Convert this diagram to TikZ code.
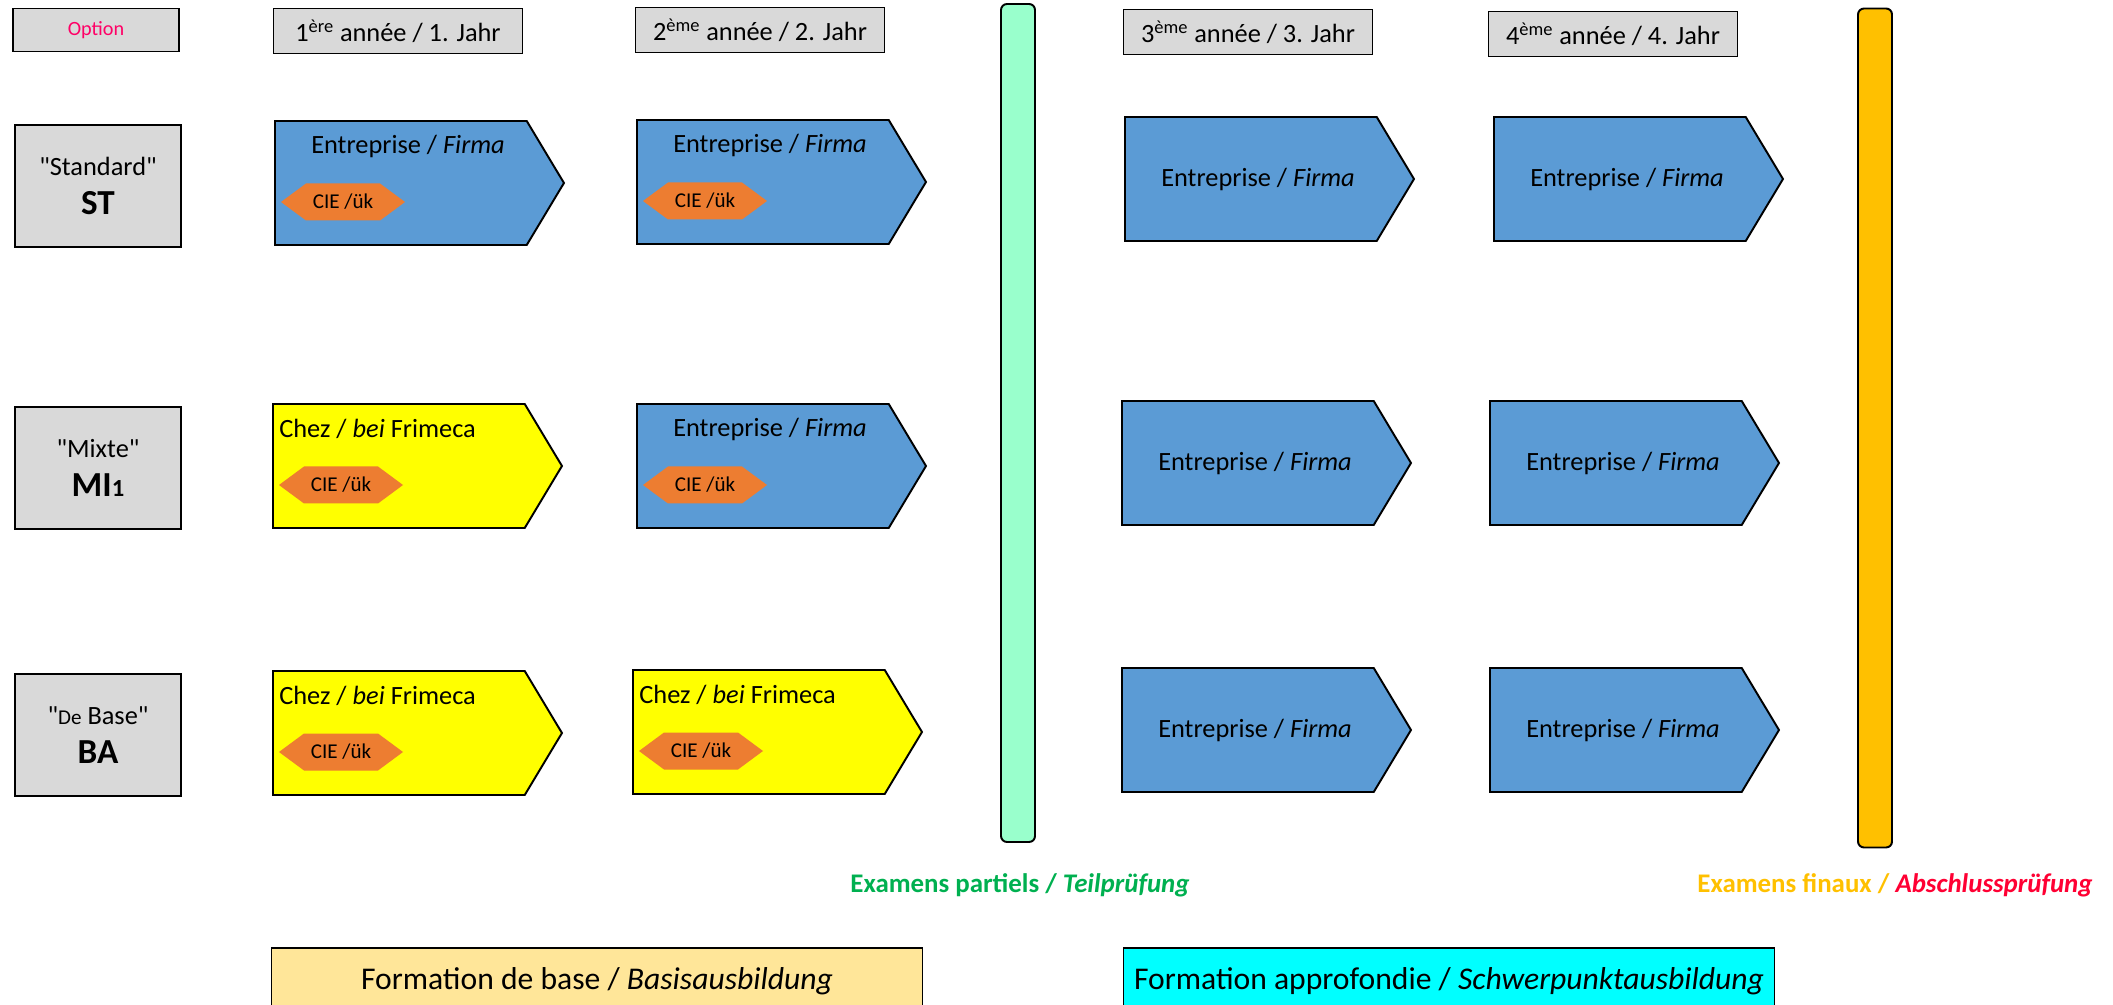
\documentclass[tikz,border=0pt]{standalone}
\usepackage{fontspec}
\setmainfont{Carlito}
\usetikzlibrary{shapes.symbols}

\definecolor{boxgray}{HTML}{D9D9D9}
\definecolor{firmblue}{HTML}{5B9BD5}
\definecolor{frimyellow}{HTML}{FFFF00}
\definecolor{cieorange}{HTML}{ED7D31}
\definecolor{partgreen}{HTML}{99FFCC}
\definecolor{partlabel}{HTML}{00B050}
\definecolor{finorange}{HTML}{FFC000}
\definecolor{finred}{HTML}{FF0033}
\definecolor{optpink}{HTML}{FF0066}
\definecolor{basefill}{HTML}{FFE699}
\definecolor{deepfill}{HTML}{00FFFF}

\begin{document}
\begin{tikzpicture}[x=0.2mm,y=-0.2mm]

  \tikzstyle{head} = [draw, line width=1.1pt, fill=boxgray, minimum width=49.8mm, minimum height=9mm, inner sep=0pt, font=\fontsize{15}{18}\selectfont]
  \tikzstyle{track} = [draw, line width=1.1pt, fill=boxgray, minimum width=33.2mm, minimum height=24.4mm, align=center, font=\fontsize{15}{22}\selectfont]
  \tikzstyle{stage} = [signal, signal to=east, signal pointer angle=118, draw, line width=1.1pt, minimum width=57.8mm, minimum height=24.8mm, anchor=west]
  \tikzstyle{cie} = [signal, signal to=west and east, signal pointer angle=73, fill=cieorange, minimum width=24.8mm, minimum height=7.4mm, inner sep=0pt, font=\fontsize{12}{14}\selectfont]
  \tikzstyle{txt} = [inner sep=0pt, font=\fontsize{15}{18}\selectfont]
  \tikzstyle{bar} = [draw, line width=1.1pt, rounded corners=1.2mm, minimum width=6.8mm]
  \tikzstyle{exam} = [font=\bfseries\fontsize{15.3}{18}\selectfont]
  \tikzstyle{phase} = [draw, line width=1.1pt, minimum width=130.2mm, minimum height=13.2mm, anchor=north, font=\fontsize{18}{22}\selectfont]

  \useasboundingbox (0,0) rectangle (2113,1005);
  \clip (0,0) rectangle (2113,1005);

  \node[head, minimum width=33.2mm, minimum height=8.6mm, font=\fontsize{11.5}{14}\selectfont, text=optpink] (opt) at (96,30) {Option};
  \node[head] (y1) at (398,31) {1\textsuperscript{ère} année / 1. Jahr};
  \node[head] (y2) at (760,30) {2\textsuperscript{ème} année / 2. Jahr};
  \node[head] (y3) at (1248,32) {3\textsuperscript{ème} année / 3. Jahr};
  \node[head] (y4) at (1613,34) {4\textsuperscript{ème} année / 4. Jahr};

  \node[track] (ST) at (98,186) {\textquotedbl Standard\textquotedbl\\{\bfseries\fontsize{20}{22}\selectfont ST}};
  \node[track] (MI) at (98,468) {\textquotedbl Mixte\textquotedbl\\{\bfseries\fontsize{20}{22}\selectfont MI{\fontsize{14}{16}\selectfont 1}}};
  \node[track] (BA) at (98,735) {\textquotedbl{\fontsize{12}{14}\selectfont De} Base\textquotedbl\\{\bfseries\fontsize{20}{22}\selectfont BA}};

  \node[stage, fill=firmblue] (st1) at (274,183) {};
  \node[txt] (st1t) at (408,146) {Entreprise / \textit{Firma}};
  \node[cie] (st1c) at (343,202) {CIE /ük};
  \node[stage, fill=firmblue] (st2) at (636,182) {};
  \node[txt] (st2t) at (770,145) {Entreprise / \textit{Firma}};
  \node[cie] (st2c) at (705,201) {CIE /ük};
  \node[stage, fill=firmblue] (st3) at (1124,179) {};
  \node[txt] (st3t) at (1258,179) {Entreprise / \textit{Firma}};
  \node[stage, fill=firmblue] (st4) at (1493,179) {};
  \node[txt] (st4t) at (1627,179) {Entreprise / \textit{Firma}};

  \node[stage, fill=frimyellow] (mi1) at (272,466) {};
  \node[txt, anchor=west] (mi1t) at (279,429) {Chez / \textit{bei} Frimeca};
  \node[cie] (mi1c) at (341,485) {CIE /ük};
  \node[stage, fill=firmblue] (mi2) at (636,466) {};
  \node[txt] (mi2t) at (770,429) {Entreprise / \textit{Firma}};
  \node[cie] (mi2c) at (705,485) {CIE /ük};
  \node[stage, fill=firmblue] (mi3) at (1121,463) {};
  \node[txt] (mi3t) at (1255,463) {Entreprise / \textit{Firma}};
  \node[stage, fill=firmblue] (mi4) at (1489,463) {};
  \node[txt] (mi4t) at (1623,463) {Entreprise / \textit{Firma}};

  \node[stage, fill=frimyellow] (ba1) at (272,733) {};
  \node[txt, anchor=west] (ba1t) at (279,696) {Chez / \textit{bei} Frimeca};
  \node[cie] (ba1c) at (341,752) {CIE /ük};
  \node[stage, fill=frimyellow] (ba2) at (632,732) {};
  \node[txt, anchor=west] (ba2t) at (639,695) {Chez / \textit{bei} Frimeca};
  \node[cie] (ba2c) at (701,751) {CIE /ük};
  \node[stage, fill=firmblue] (ba3) at (1121,730) {};
  \node[txt] (ba3t) at (1255,730) {Entreprise / \textit{Firma}};
  \node[stage, fill=firmblue] (ba4) at (1489,730) {};
  \node[txt] (ba4t) at (1623,730) {Entreprise / \textit{Firma}};

  \node[bar, fill=partgreen, minimum height=167.6mm] (partbar) at (1018,423) {};
  \node[bar, fill=finorange, minimum height=167.8mm] (finbar) at (1875,428) {};

  \node[exam, text=partlabel] (partlbl) at (1020,885) {Examens partiels / \textit{Teilprüfung}};
  \node[exam] (finlbl) at (1895,885) {\color{finorange}Examens finaux / \textit{\color{finred}Abschlussprüfung}};

  \node[phase, fill=basefill] (base) at (597,947) {Formation de base / \textit{Basisausbildung}};
  \node[phase, fill=deepfill] (deep) at (1449,947) {Formation approfondie / \textit{Schwerpunktausbildung}};

\end{tikzpicture}
\end{document}
